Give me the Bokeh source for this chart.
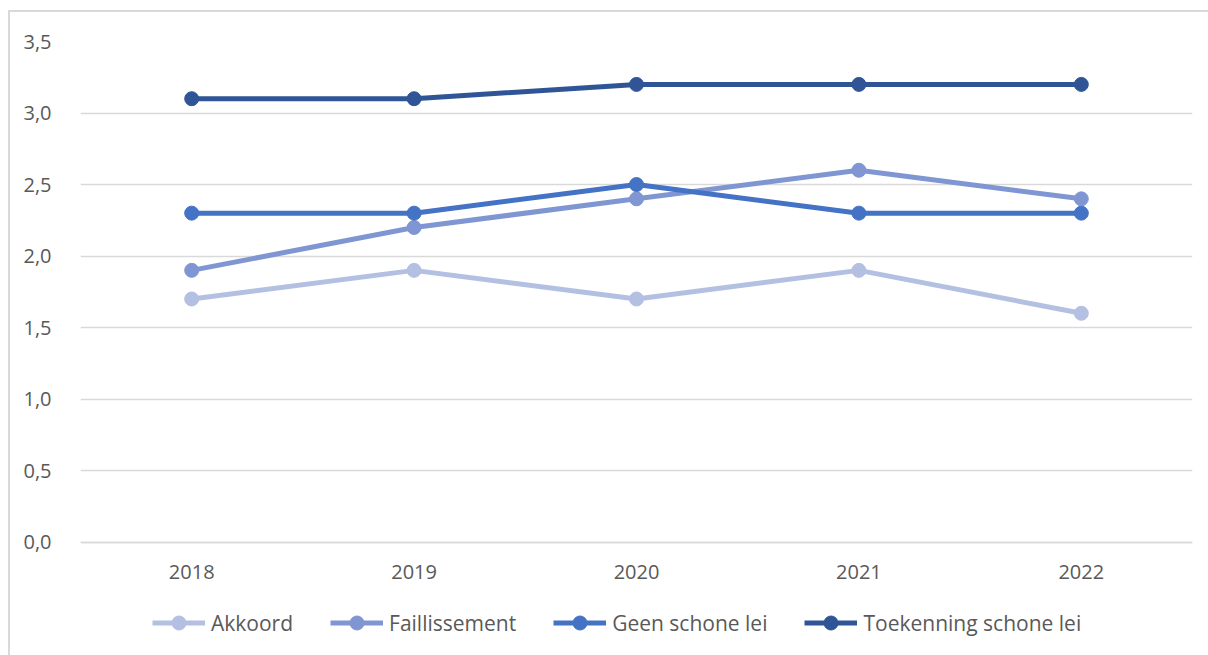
from bokeh.plotting import figure
from bokeh.models import (FactorRange, Range1d, Legend, LegendItem, FixedTicker,
                          CustomJSTickFormatter)
from bokeh.embed import file_html
from bokeh.resources import INLINE

years = ["2018", "2019", "2020", "2021", "2022"]
akkoord = [1.7, 1.9, 1.7, 1.9, 1.6]
faillissement = [1.9, 2.2, 2.4, 2.6, 2.4]
geen_schone_lei = [2.3, 2.3, 2.5, 2.3, 2.3]
toekenning_schone_lei = [3.1, 3.1, 3.2, 3.2, 3.2]
series_names = ["Akkoord", "Faillissement", "Geen schone lei", "Toekenning schone lei"]
y_ticks = [0.0, 0.5, 1.0, 1.5, 2.0, 2.5, 3.0, 3.5]

colors = ["#b4c0e2", "#7f96d2", "#4472c4", "#2f5597"]
FONT = "Open Sans"
TXT = "#595959"
GRID = "#d9d9d9"

p = figure(width=1200, height=645, output_backend="svg", toolbar_location=None,
           x_range=FactorRange(*years, range_padding=0),
           y_range=Range1d(-0.7365, 3.5))
p.min_border_left = 70
p.min_border_right = 18
p.min_border_top = 29
p.min_border_bottom = 10
p.outline_line_color = None
p.background_fill_color = "white"
p.border_fill_color = "white"
p.styles = {"border-left": "2px solid #d9d9d9", "border-top": "2px solid #d9d9d9",
            "box-sizing": "border-box", "margin-top": "10px", "margin-left": "8px"}

p.xgrid.grid_line_color = None
p.ygrid.grid_line_color = GRID
p.ygrid.grid_line_width = 1.5
p.ygrid.ticker = FixedTicker(ticks=y_ticks)

p.yaxis.ticker = FixedTicker(ticks=y_ticks)
p.yaxis.formatter = CustomJSTickFormatter(code="return tick.toFixed(1).replace('.', ',');")
p.yaxis.axis_line_color = None
p.yaxis.major_tick_line_color = None
p.yaxis.minor_tick_line_color = None
p.yaxis.major_label_standoff = 23
p.yaxis.major_label_text_font = FONT
p.yaxis.major_label_text_font_size = "20px"
p.yaxis.major_label_text_color = TXT

p.xaxis.fixed_location = 0
p.xaxis.axis_line_color = GRID
p.xaxis.axis_line_width = 1.5
p.xaxis.major_tick_line_color = None
p.xaxis.minor_tick_line_color = None
p.xaxis.major_label_standoff = 17
p.xaxis.major_label_text_font = FONT
p.xaxis.major_label_text_font_size = "20px"
p.xaxis.major_label_text_color = TXT

data = [akkoord, faillissement, geen_schone_lei, toekenning_schone_lei]
items = []
for name, vals, c in zip(series_names, data, colors):
    l = p.line(years, vals, line_color=c, line_width=5)
    s = p.scatter(years, vals, size=14, fill_color=c, line_color=c)
    items.append(LegendItem(label=name, renderers=[l, s]))

legend = Legend(items=items, orientation="horizontal", location=(72, 7),
                glyph_width=53, glyph_height=35, label_height=35,
                label_standoff=6, spacing=37, padding=0, margin=0,
                label_text_font=FONT, label_text_font_size="21px",
                label_text_color=TXT, border_line_color=None,
                background_fill_alpha=0)
p.add_layout(legend, "center")

open("out.html", "w").write(file_html(p, INLINE))
